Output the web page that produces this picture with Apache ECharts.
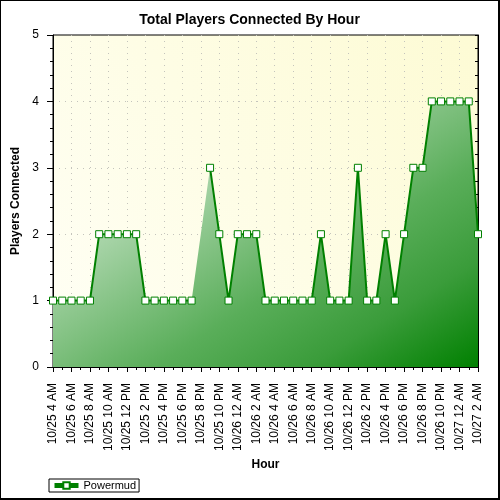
<!DOCTYPE html>
<html>
<head>
<meta charset="utf-8">
<script src="https://cdn.jsdelivr.net/npm/echarts@6/dist/echarts.min.js"></script>
<style>
    html, body { margin: 0; padding: 0; background: #fff; }
    #chart { width: 500px; height: 500px; box-sizing: border-box; border: 1px solid #000; border-right-width: 2px; border-bottom-width: 2px; }
</style>
</head>
<body>
<div id="chart"></div>
<script>
const hours = [
    '10/25 4 AM', '10/25 5 AM', '10/25 6 AM', '10/25 7 AM', '10/25 8 AM', '10/25 9 AM',
    '10/25 10 AM', '10/25 11 AM', '10/25 12 PM', '10/25 1 PM', '10/25 2 PM', '10/25 3 PM',
    '10/25 4 PM', '10/25 5 PM', '10/25 6 PM', '10/25 7 PM', '10/25 8 PM', '10/25 9 PM',
    '10/25 10 PM', '10/25 11 PM',
    '10/26 12 AM', '10/26 1 AM', '10/26 2 AM', '10/26 3 AM', '10/26 4 AM', '10/26 5 AM',
    '10/26 6 AM', '10/26 7 AM', '10/26 8 AM', '10/26 9 AM', '10/26 10 AM', '10/26 11 AM',
    '10/26 12 PM', '10/26 1 PM', '10/26 2 PM', '10/26 3 PM', '10/26 4 PM', '10/26 5 PM',
    '10/26 6 PM', '10/26 7 PM', '10/26 8 PM', '10/26 9 PM', '10/26 10 PM', '10/26 11 PM',
    '10/27 12 AM', '10/27 1 AM', '10/27 2 AM'
]
// 10/25 8 PM has no reading
const powermud = [
    1, 1, 1, 1, 1, 2,
    2, 2, 2, 2, 1, 1,
    1, 1, 1, 1, null, 3,
    2, 1,
    2, 2, 2, 1, 1, 1,
    1, 1, 1, 2, 1, 1,
    1, 3, 1, 1, 2, 1,
    2, 3, 3, 4, 4, 4,
    4, 4, 2
]
const yTicks = {min: 0, max: 5, interval: 1}

const font = 'Liberation Sans, Arial, sans-serif'
const green = '#008000'
const dotted = {color: '#c4c4bc', width: 1, type: [1, 5]}

let chartDom = document.getElementById('chart')
let myChart = echarts.init(chartDom, null, {renderer: 'canvas'})

// gradient runs corner to corner of the filled area, iso-lines along the other diagonal
// (vector scaled for a roughly 428x267 box)
const areaGradient = {
    type: 'linear', x: 0, y: 0, x2: 0.561, y2: 1.439,
    colorStops: [
        {offset: 0, color: '#f6fbf6'},
        {offset: 0.324, color: '#a6d3a6'},
        {offset: 0.616, color: '#5aae5a'},
        {offset: 0.8, color: '#3a9c3a'},
        {offset: 1, color: green}
    ]
}

let option = {
    animation: false,
    title: {
        text: 'Total Players Connected By Hour',
        left: 'center',
        top: 7,
        textStyle: {fontFamily: font, fontSize: 14, fontWeight: 'bold', color: '#000'}
    },
    legend: {
        data: ['Powermud'],
        left: 48,
        top: 478,
        orient: 'horizontal',
        padding: [1, 3, 1, 3],
        borderColor: '#000',
        borderWidth: 1,
        borderRadius: 0,
        itemWidth: 24,
        itemHeight: 8,
        lineStyle: {width: 5, color: green},
        textStyle: {fontFamily: font, fontSize: 11, color: '#000'}
    },
    grid: {
        left: 52,
        right: 20,
        top: 34,
        bottom: 131,
        show: true,
        borderColor: '#000',
        borderWidth: 1,
        backgroundColor: {
            type: 'linear', x: 0, y: 1, x2: 1, y2: 0,
            colorStops: [{offset: 0, color: '#fffff6'}, {offset: 1, color: '#fdfbd4'}]
        }
    },
    xAxis: [{
        type: 'category',
        data: hours,
        boundaryGap: false,
        name: 'Hour',
        nameLocation: 'middle',
        nameGap: 91,
        nameTextStyle: {fontFamily: font, fontSize: 12, fontWeight: 'bold', color: '#000'},
        axisLine: {lineStyle: {color: '#000', width: 1}},
        axisTick: {show: true, interval: 1, length: 5, lineStyle: {color: '#000'}},
        axisLabel: {interval: 1, rotate: 90, margin: 16, fontFamily: font, fontSize: 12, color: '#000'},
        splitLine: {show: true, interval: 1, lineStyle: dotted}
    }, {
        type: 'category',
        data: hours,
        boundaryGap: false,
        position: 'top',
        axisLine: {show: true, lineStyle: {color: '#000'}},
        axisTick: {show: true, inside: true, interval: 0, length: 3, lineStyle: {color: '#000'}},
        axisLabel: {show: false},
        splitLine: {show: false}
    }],
    yAxis: [{
        type: 'value',
        min: yTicks.min,
        max: yTicks.max,
        interval: yTicks.interval,
        name: 'Players Connected',
        nameLocation: 'middle',
        nameGap: 30,
        nameTextStyle: {fontFamily: font, fontSize: 12, fontWeight: 'bold', color: '#000'},
        axisLine: {show: true, lineStyle: {color: '#000', width: 1}},
        axisTick: {show: true, length: 6, lineStyle: {color: '#000'}},
        minorTick: {show: true, splitNumber: 5, length: 3, lineStyle: {color: '#000'}},
        axisLabel: {margin: 14, fontFamily: font, fontSize: 12, color: '#000'},
        splitLine: {show: true, showMaxLine: false, lineStyle: dotted}
    }, {
        type: 'value',
        min: yTicks.min,
        max: yTicks.max,
        interval: yTicks.interval,
        position: 'right',
        axisLine: {show: true, lineStyle: {color: '#000'}},
        axisTick: {show: true, inside: true, length: 3, lineStyle: {color: '#000'}},
        minorTick: {show: true, splitNumber: 5, length: 3, lineStyle: {color: '#000'}},
        axisLabel: {show: false},
        splitLine: {show: false}
    }],
    series: [{
        // filled area, bridging the missing hour
        type: 'line',
        data: powermud,
        connectNulls: true,
        symbol: 'none',
        silent: true,
        z: 1,
        lineStyle: {width: 0, opacity: 0},
        areaStyle: {opacity: 1, color: areaGradient}
    }, {
        name: 'Powermud',
        type: 'line',
        data: powermud,
        connectNulls: false,
        symbol: 'rect',
        symbolSize: 7,
        showAllSymbol: true,
        z: 3,
        lineStyle: {color: green, width: 2},
        itemStyle: {color: '#fff', borderColor: green, borderWidth: 1}
    }]
}

myChart.setOption(option)

window.addEventListener('resize', () => {
    myChart.resize()
})
</script>
</body>
</html>
